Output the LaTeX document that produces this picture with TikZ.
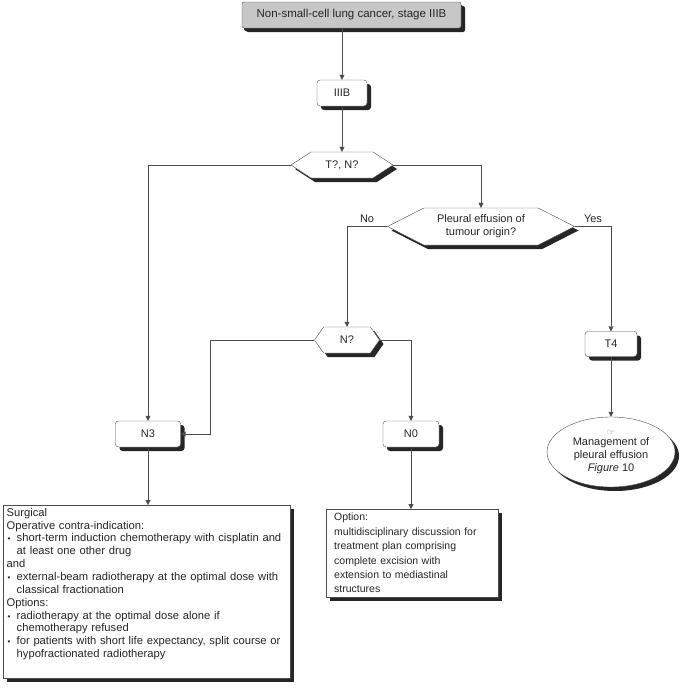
\documentclass[tikz,border=0pt]{standalone}
\usepackage{fontspec}
\setmainfont{Liberation Sans}
\newfontfamily\symfont{DejaVu Sans}
\usetikzlibrary{positioning,arrows.meta,shapes.geometric,shapes.symbols,shadows}
\newcommand{\bul}[1]{\par\noindent\makebox[10pt][l]{\hspace{1pt}{\footnotesize\textbullet}}\parbox[t]{270pt}{#1\strut}\par}

\begin{document}
\begin{tikzpicture}[x=1pt,y=-1pt,
			shade/.style={drop shadow={shadow xshift=4pt,shadow yshift=-4pt,fill=black!85,opacity=1}},
			txt/.style={font=\fontsize{11}{13}\selectfont,text=black!85},
			box/.style={txt,shade,draw=black!70,fill=white,rounded corners=3pt,minimum height=26pt},
			hexa/.style={txt,shade,shape=signal,signal to=west and east,draw=black!70,fill=white,align=center,inner sep=1pt},
			textbox/.style={txt,shade,draw=black!70,fill=white,align=left,anchor=north west},
			arrow/.style={draw=black!70,-{Triangle[length=5pt,width=5pt]}}
			]
			
			\useasboundingbox (0,0) rectangle (685,688);
			
			\node[box,fill=black!22,rounded corners=2pt,minimum width=219pt,font=\fontsize{11.5}{13}\selectfont,drop shadow={shadow xshift=2pt,shadow yshift=-3pt,fill=black!85,opacity=1}] (top) at (351.5,15)
			{Non-small-cell lung cancer, stage IIIB};
			
			\node[box,minimum width=50pt] (iiib) at (342,93) {IIIB};
			
			\node[hexa,minimum width=102pt,minimum height=26pt,signal pointer angle=66] (tn) at (342,165) {T?, N?};
			
			\node[hexa,minimum width=187pt,minimum height=37pt,signal pointer angle=54] (pleural) at (481,226.5)
			{Pleural effusion of\\tumour origin?};
			
			\node[hexa,minimum width=65pt,minimum height=26pt,signal pointer angle=110] (nq) at (347,340) {N?};
			
			\node[box,minimum width=52pt,minimum height=25pt] (t4) at (611,344) {T4};
			
			\node[box,minimum width=65pt] (n3) at (148,434) {N3};
			
			\node[box,minimum width=56pt] (n0) at (411,434) {N0};
			
			\node[txt,shade,ellipse,draw=black!70,fill=white,minimum width=128pt,minimum height=70pt,inner sep=0pt,align=center] (mgmt) at (611,452)
			{{\symfont\small\color{black!50}☞}\\[-3pt]Management of\\pleural effusion\\\textit{Figure} 10};
			
			\node[textbox,text width=280pt,inner xsep=3.5pt,inner ysep=3pt,font=\fontsize{11.2}{12.8}\selectfont] (surg) at (3,505)
			{\noindent Surgical\par
				\noindent Operative contra-indication:
				\bul{short-term induction chemotherapy with cisplatin and at least one other drug}
				\noindent and
				\bul{external-beam radiotherapy at the optimal dose with classical fractionation}
				\noindent Options:
				\bul{radiotherapy at the optimal dose alone if\\chemotherapy refused}
				\bul{for patients with short life expectancy, split course or hypofractionated radiotherapy}
				\vspace{14pt}};
			
			\node[textbox,text width=156pt,inner xsep=8pt,inner ysep=4pt,font=\fontsize{10.5}{14.4}\selectfont] (opt) at (326,509)
			{Option:\\multidisciplinary discussion for\\treatment plan comprising\\complete excision with\\extension to mediastinal\\structures};
			
			% connectors
			\draw[arrow] (top.south -| iiib) -- (iiib);
			\draw[arrow] (iiib) -- (iiib |- tn.north);
			\draw[arrow] (tn.west) -| (n3);
			\draw[arrow] (tn.east) -| (pleural);
			\draw[arrow] (pleural.west) -| node[txt,above,pos=0.25] {No} (nq);
			\draw[arrow] (pleural.east) -| node[txt,above,pos=0.25] {Yes} (t4);
			\draw[arrow] (nq.west) -- ++(-104,0) |- (n3.east);
			\draw[arrow] (nq.east) -| (n0);
			\draw[arrow] (t4) -- (t4 |- mgmt.north);
			\draw[arrow] (n3) -- (surg.north -| n3);
			\draw[arrow] (n0) -- (opt.north -| n0);
			
		\end{tikzpicture}
\end{document}
